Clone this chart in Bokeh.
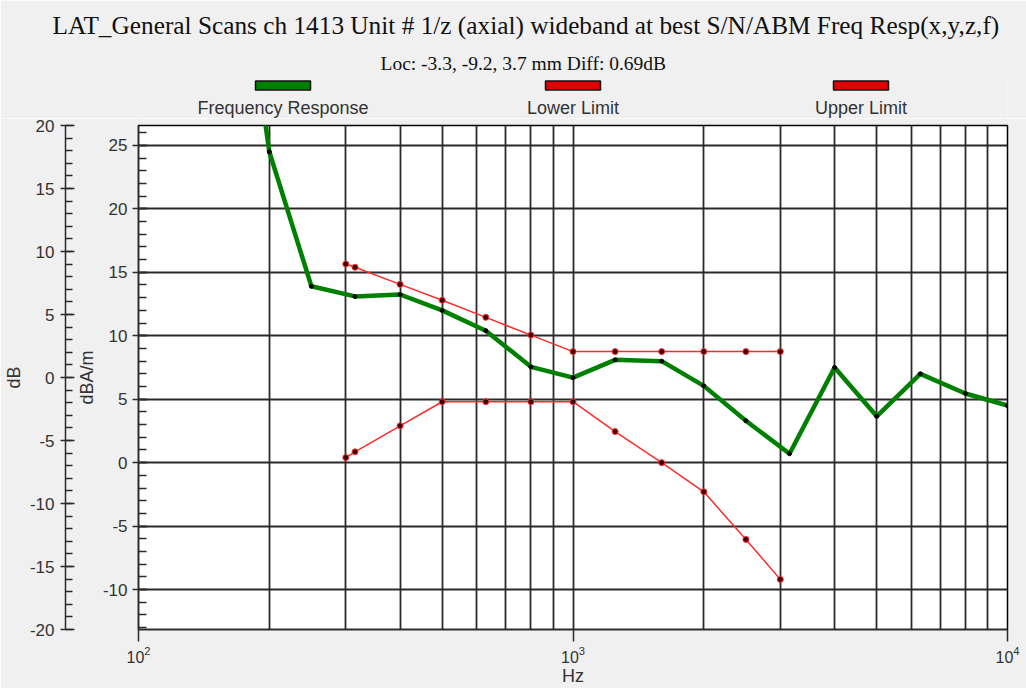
from bokeh.plotting import figure
from bokeh.models import (Range1d, LinearAxis, FixedTicker, SingleIntervalTicker,
                          PrintfTickFormatter, Title)
from bokeh.layouts import column
from bokeh.embed import file_html
from bokeh.resources import INLINE
from bokeh.core.properties import value

# ---------------- data ----------------
title_text = "LAT_General Scans ch 1413 Unit # 1/z (axial) wideband at best S/N/ABM Freq Resp(x,y,z,f)"
subtitle_text = "Loc: -3.3, -9.2, 3.7 mm Diff: 0.69dB"
legend_labels = ["Frequency Response", "Lower Limit", "Upper Limit"]
legend_colors = ["#008000", "#e00000", "#e00000"]

fr_freq = [160, 200, 250, 315, 400, 500, 630, 800, 1000, 1250, 1600, 2000,
           2500, 3150, 4000, 5000, 6300, 8000, 10000]
fr_level = [48.0, 24.5, 13.9, 13.1, 13.25, 12.0, 10.4, 7.55, 6.7, 8.1, 8.0,
            6.05, 3.3, 0.7, 7.5, 3.65, 7.0, 5.45, 4.5]

lim_freq = [300, 315, 400, 500, 630, 800, 1000, 1250, 1600, 2000, 2500, 3000]
upper_limit = [15.65, 15.4, 14.05, 12.8, 11.45, 10.05, 8.75, 8.75, 8.75, 8.75, 8.75, 8.75]
lower_limit = [0.4, 0.85, 2.9, 4.8, 4.8, 4.8, 4.8, 2.45, 0.0, -2.3, -6.05, -9.2]

x_major_ticks = [100, 1000, 10000]
x_minor_ticks = [200, 300, 400, 500, 600, 700, 800, 900,
                 2000, 3000, 4000, 5000, 6000, 7000, 8000, 9000]

# ---------------- layout constants (page pixels) ----------------
W = 1026
HEAD_H = 118
MAIN_H = 688 - HEAD_H
FRAME_TOP = 125
F_LEFT, F_RIGHT = 138, 1007          # plot frame left / right
HEAD_FRAME_TOP = 79                  # legend strip top
BG = "#f0f0f0"
GRID = "#2a2a2a"
TXT = "#333333"
SANS = "Liberation Sans"
SERIF = "Liberation Serif"

# ---------------- header figure: titles + legend ----------------
h = figure(width=W, height=HEAD_H,
           x_range=Range1d(F_LEFT, F_RIGHT), y_range=Range1d(HEAD_H, HEAD_FRAME_TOP),
           output_backend="svg", toolbar_location=None,
           x_axis_location=None, y_axis_location=None,
           min_border_left=F_LEFT, min_border_right=W - F_RIGHT,
           min_border_top=HEAD_FRAME_TOP, min_border_bottom=0)
h.grid.visible = False
h.outline_line_color = None
h.background_fill_color = BG
h.border_fill_color = BG

sub_title = Title(text=subtitle_text, align="left", offset=242, standoff=11,
                  text_font=SERIF, text_font_size="19.5px", text_font_style="normal",
                  text_color="#111111")
main_title = Title(text=title_text, align="left", offset=-86, standoff=9,
                   vertical_align="top",
                   text_font=SERIF, text_font_size="25.3px", text_font_style="normal",
                   text_color="#111111")
h.add_layout(sub_title, "above")
h.add_layout(main_title, "above")

leg_cx = [282.5, 572.5, 860.5]
h.quad(left=[c - 27.5 for c in leg_cx], right=[c + 27.5 for c in leg_cx],
       top=[80.5] * 3, bottom=[89.5] * 3, fill_color=legend_colors,
       line_color="#111111", line_width=1.5)
h.text(x=leg_cx, y=[107] * 3, text=legend_labels, text_font=value(SANS),
       text_font_size="18px", text_align="center", text_baseline="middle",
       text_color=TXT)

# ---------------- main figure ----------------
p = figure(width=W, height=MAIN_H, x_axis_type="log",
           x_range=Range1d(100, 10000), y_range=Range1d(-13.15, 26.57),
           output_backend="svg", toolbar_location=None,
           min_border_left=F_LEFT, min_border_right=W - F_RIGHT,
           min_border_top=FRAME_TOP - HEAD_H, min_border_bottom=58)
p.background_fill_color = "white"
p.border_fill_color = BG
p.outline_line_color = "black"
p.outline_line_width = 1.5
p.extra_y_ranges = {"db": Range1d(-20, 20)}

# x axis
xa = p.xaxis[0]
xa.ticker = FixedTicker(ticks=x_major_ticks, minor_ticks=x_minor_ticks)
xa.major_tick_out = 12
xa.major_tick_in = 0
xa.minor_tick_out = 0
xa.minor_tick_in = 0
xa.major_tick_line_color = GRID
xa.major_tick_line_width = 1.5
xa.axis_line_color = GRID
xa.axis_line_width = 1.5
xa.major_label_standoff = 4
xa.major_label_text_font = SANS
xa.major_label_text_font_size = "16px"
xa.major_label_text_color = TXT
xa.axis_label = "Hz"
xa.axis_label_standoff = 0
xa.axis_label_text_font = SANS
xa.axis_label_text_font_size = "18px"
xa.axis_label_text_font_style = "normal"
xa.axis_label_text_color = TXT


def style_y(ax, tick_out, tick_in, minor_in, standoff):
    ax.ticker = SingleIntervalTicker(interval=5, num_minor_ticks=5)
    ax.formatter = PrintfTickFormatter(format="%d")
    ax.major_tick_out = tick_out
    ax.major_tick_in = tick_in
    ax.minor_tick_out = 0
    ax.minor_tick_in = minor_in
    ax.major_tick_line_color = GRID
    ax.minor_tick_line_color = GRID
    ax.major_tick_line_width = 1.5
    ax.minor_tick_line_width = 1.5
    ax.axis_line_color = GRID
    ax.axis_line_width = 1.5
    ax.major_label_standoff = standoff
    ax.major_label_text_font = SANS
    ax.major_label_text_font_size = "17px"
    ax.major_label_text_color = TXT
    ax.axis_label_standoff = 3
    ax.axis_label_text_font = SANS
    ax.axis_label_text_font_size = "18px"
    ax.axis_label_text_font_style = "normal"
    ax.axis_label_text_color = TXT


ya = p.yaxis[0]
style_y(ya, 6, 9, 8, 5)
ya.axis_label = "dBA/m"

# invisible spacer between the two left axes
spacer = LinearAxis(y_range_name="db", ticker=FixedTicker(ticks=[]),
                    axis_line_color=None, major_tick_line_color=None,
                    minor_tick_line_color=None, major_tick_out=0, minor_tick_out=0,
                    major_tick_in=0, minor_tick_in=0, major_label_text_font_size="0px",
                    axis_label=" ", axis_label_text_font_size="4px",
                    axis_label_standoff=0)
p.add_layout(spacer, "left")

yb = LinearAxis(y_range_name="db")
style_y(yb, 5, 9, 7, 6)
yb.axis_label = "dB"
p.add_layout(yb, "left")

# grids
p.xgrid.grid_line_color = GRID
p.xgrid.grid_line_width = 1.8
p.xgrid.minor_grid_line_color = GRID
p.xgrid.minor_grid_line_width = 1.8
p.ygrid.grid_line_color = GRID
p.ygrid.grid_line_width = 1.8

# data
p.line(lim_freq, upper_limit, line_color="#ff2a2a", line_width=1.5)
p.line(lim_freq, lower_limit, line_color="#ff2a2a", line_width=1.5)
p.scatter(lim_freq, upper_limit, size=6, fill_color="#400000", line_color="#ff3030", line_width=1)
p.scatter(lim_freq, lower_limit, size=6, fill_color="#400000", line_color="#ff3030", line_width=1)

p.line(fr_freq, fr_level, line_color="#008000", line_width=4.5)
p.scatter(fr_freq, fr_level, size=4, fill_color="black", line_color="black")

layout = column(h, p, spacing=0)
open("out.html", "w").write(file_html(layout, INLINE))
